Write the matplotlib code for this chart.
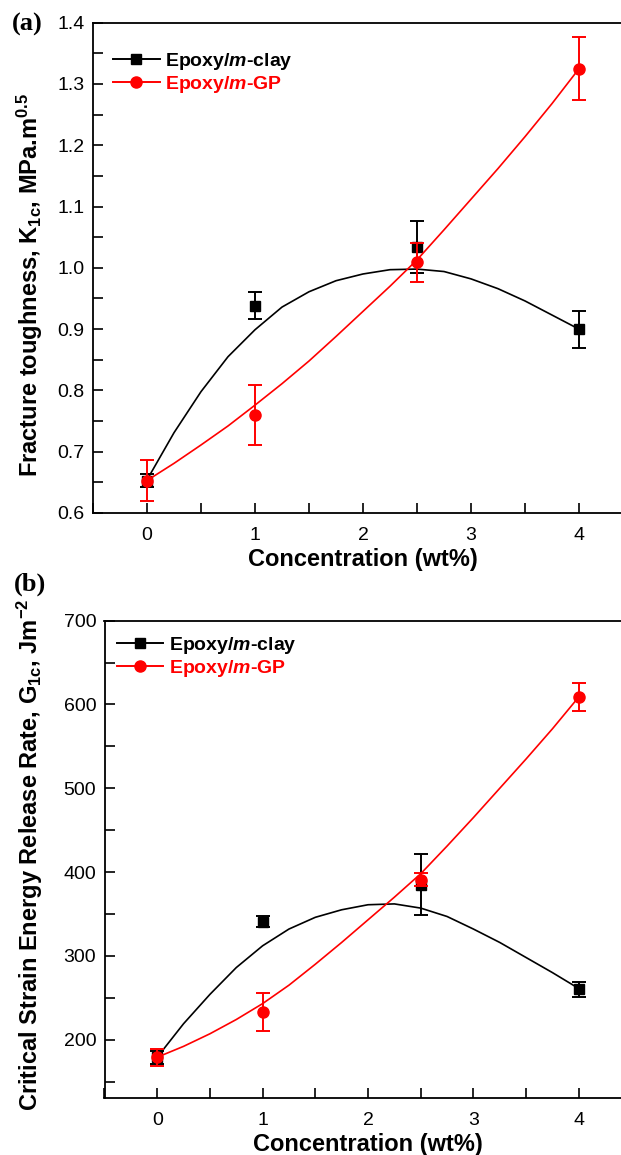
import matplotlib
matplotlib.use("Agg")
import matplotlib.pyplot as plt
from matplotlib.lines import Line2D
from matplotlib.ticker import MultipleLocator, FormatStrFormatter

plt.rcParams["font.family"] = ["Liberation Sans", "DejaVu Sans"]
plt.rcParams["mathtext.fontset"] = "custom"
plt.rcParams["mathtext.rm"] = "Liberation Sans"
plt.rcParams["mathtext.it"] = "Liberation Sans:italic"
plt.rcParams["mathtext.bf"] = "Liberation Sans:bold"
plt.rcParams["mathtext.bfit"] = "Liberation Sans:italic:bold"

# Measured data points (wt%)
conc = [0, 1, 2.5, 4]

# (a) fracture toughness K1c, MPa.m^0.5
k1c_clay = [0.653, 0.938, 1.034, 0.900]
k1c_clay_err = [0.010, 0.022, 0.043, 0.030]
k1c_gp = [0.653, 0.760, 1.009, 1.325]
k1c_gp_err = [0.034, 0.049, 0.032, 0.051]

# (b) critical strain energy release rate G1c, J/m^2
g1c_clay = [179, 341, 385, 260]
g1c_clay_err = [8, 7, 36, 9]
g1c_gp = [179, 233, 391, 609]
g1c_gp_err = [10, 23, 8, 17]

# Fitted trend lines
fit_x = [0, 0.25, 0.5, 0.75, 1.0, 1.25, 1.5, 1.75, 2.0, 2.25, 2.5, 2.75, 3.0, 3.25, 3.5, 3.75, 4.0]
k1c_clay_fit = [0.654, 0.731, 0.798, 0.855, 0.899, 0.936, 0.961, 0.979, 0.990, 0.997, 0.998,
                0.994, 0.982, 0.966, 0.946, 0.923, 0.900]
k1c_gp_fit = [0.653, 0.681, 0.711, 0.742, 0.776, 0.811, 0.848, 0.888, 0.929, 0.970, 1.013,
              1.062, 1.112, 1.162, 1.214, 1.268, 1.325]
g1c_clay_fit = [179, 219, 254, 286, 312, 332, 346, 355, 361, 362, 357, 347, 332, 316, 298, 280, 261]
g1c_gp_fit = [179, 192, 207, 224, 243, 265, 290, 316, 343, 370, 398, 431, 465, 500, 535, 571, 609]

labels = [r"Epoxy/$\mathbfit{m}$-clay", r"Epoxy/$\mathbfit{m}$-GP"]

fig = plt.figure(figsize=(6.21, 11.55), dpi=100)
ax1 = fig.add_axes([93 / 621, 1 - 513 / 1155, 540 / 621, 490.3 / 1155])
ax2 = fig.add_axes([104.5 / 621, 1 - 1098.3 / 1155, 527 / 621, 477.6 / 1155])


def draw_panel(ax, clay, clay_err, gp, gp_err, clay_fit, gp_fit):
    ax.plot(fit_x, clay_fit, color="black", lw=1.2, zorder=2)
    ax.errorbar(conc, clay, yerr=clay_err, fmt="s", color="black", ms=6.5,
                capsize=4.8, elinewidth=1.4, capthick=1.4, zorder=3)
    ax.plot(fit_x, gp_fit, color="red", lw=1.2, zorder=4)
    ax.errorbar(conc, gp, yerr=gp_err, fmt="o", color="red", ms=8,
                capsize=4.8, elinewidth=1.4, capthick=1.4, zorder=5)
    ax.set_xlim(-0.5, 4.5)
    ax.xaxis.set_major_locator(MultipleLocator(1))
    ax.xaxis.set_minor_locator(MultipleLocator(0.5))
    ax.tick_params(which="both", direction="in", length=7, width=1.2,
                   top=False, right=False, labelsize=14)
    ax.tick_params(axis="x", pad=10)
    ax.tick_params(axis="y", pad=6)
    for s in ax.spines.values():
        s.set_linewidth(1.3)
    ax.set_xlabel("Concentration (wt%)", fontsize=17, fontweight="bold", labelpad=3)
    handles = [
        Line2D([], [], color="black", marker="s", ms=6.5, lw=1.4),
        Line2D([], [], color="red", marker="o", ms=8, lw=1.4),
    ]
    return handles


h = draw_panel(ax1, k1c_clay, k1c_clay_err, k1c_gp, k1c_gp_err, k1c_clay_fit, k1c_gp_fit)
ax1.set_ylim(0.6, 1.4)
ax1.yaxis.set_major_locator(MultipleLocator(0.1))
ax1.yaxis.set_minor_locator(MultipleLocator(0.05))
ax1.yaxis.set_major_formatter(FormatStrFormatter("%.1f"))
ax1.set_ylabel(r"Fracture toughness, K$_{\mathbf{1c}}$, MPa.m$^{\mathbf{0.5}}$",
               fontsize=17, fontweight="bold")
ax1.yaxis.set_label_coords(-0.088, 0.465)
ax1.legend(h, labels, loc="upper left", bbox_to_anchor=(0.037, 0.942), frameon=False,
           prop={"size": 14, "weight": "bold"}, labelcolor=["black", "red"],
           handlelength=2.4, handletextpad=0.3, labelspacing=0.1,
           borderpad=0, borderaxespad=0, numpoints=1)

h = draw_panel(ax2, g1c_clay, g1c_clay_err, g1c_gp, g1c_gp_err, g1c_clay_fit, g1c_gp_fit)
ax2.set_ylim(130, 700)
ax2.yaxis.set_major_locator(MultipleLocator(100))
ax2.yaxis.set_minor_locator(MultipleLocator(50))
ax2.set_ylabel(r"Critical Strain Energy Release Rate, G$_{\mathbf{1c}}$, Jm$^{\mathbf{-2}}$",
               fontsize=17, fontweight="bold")
ax2.yaxis.set_label_coords(-0.113, 0.51)
ax2.legend(h, labels, loc="upper left", bbox_to_anchor=(0.023, 0.97), frameon=False,
           prop={"size": 14, "weight": "bold"}, labelcolor=["black", "red"],
           handlelength=2.4, handletextpad=0.3, labelspacing=0.1,
           borderpad=0, borderaxespad=0, numpoints=1)

fig.text(12 / 621, 1 - 24 / 1155, "(a)", fontsize=19, fontweight="bold",
         family="Liberation Serif", va="center", ha="left")
fig.text(14 / 621, 1 - 584 / 1155, "(b)", fontsize=19, fontweight="bold",
         family="Liberation Serif", va="center", ha="left")

fig.savefig("out.png", dpi=100)
